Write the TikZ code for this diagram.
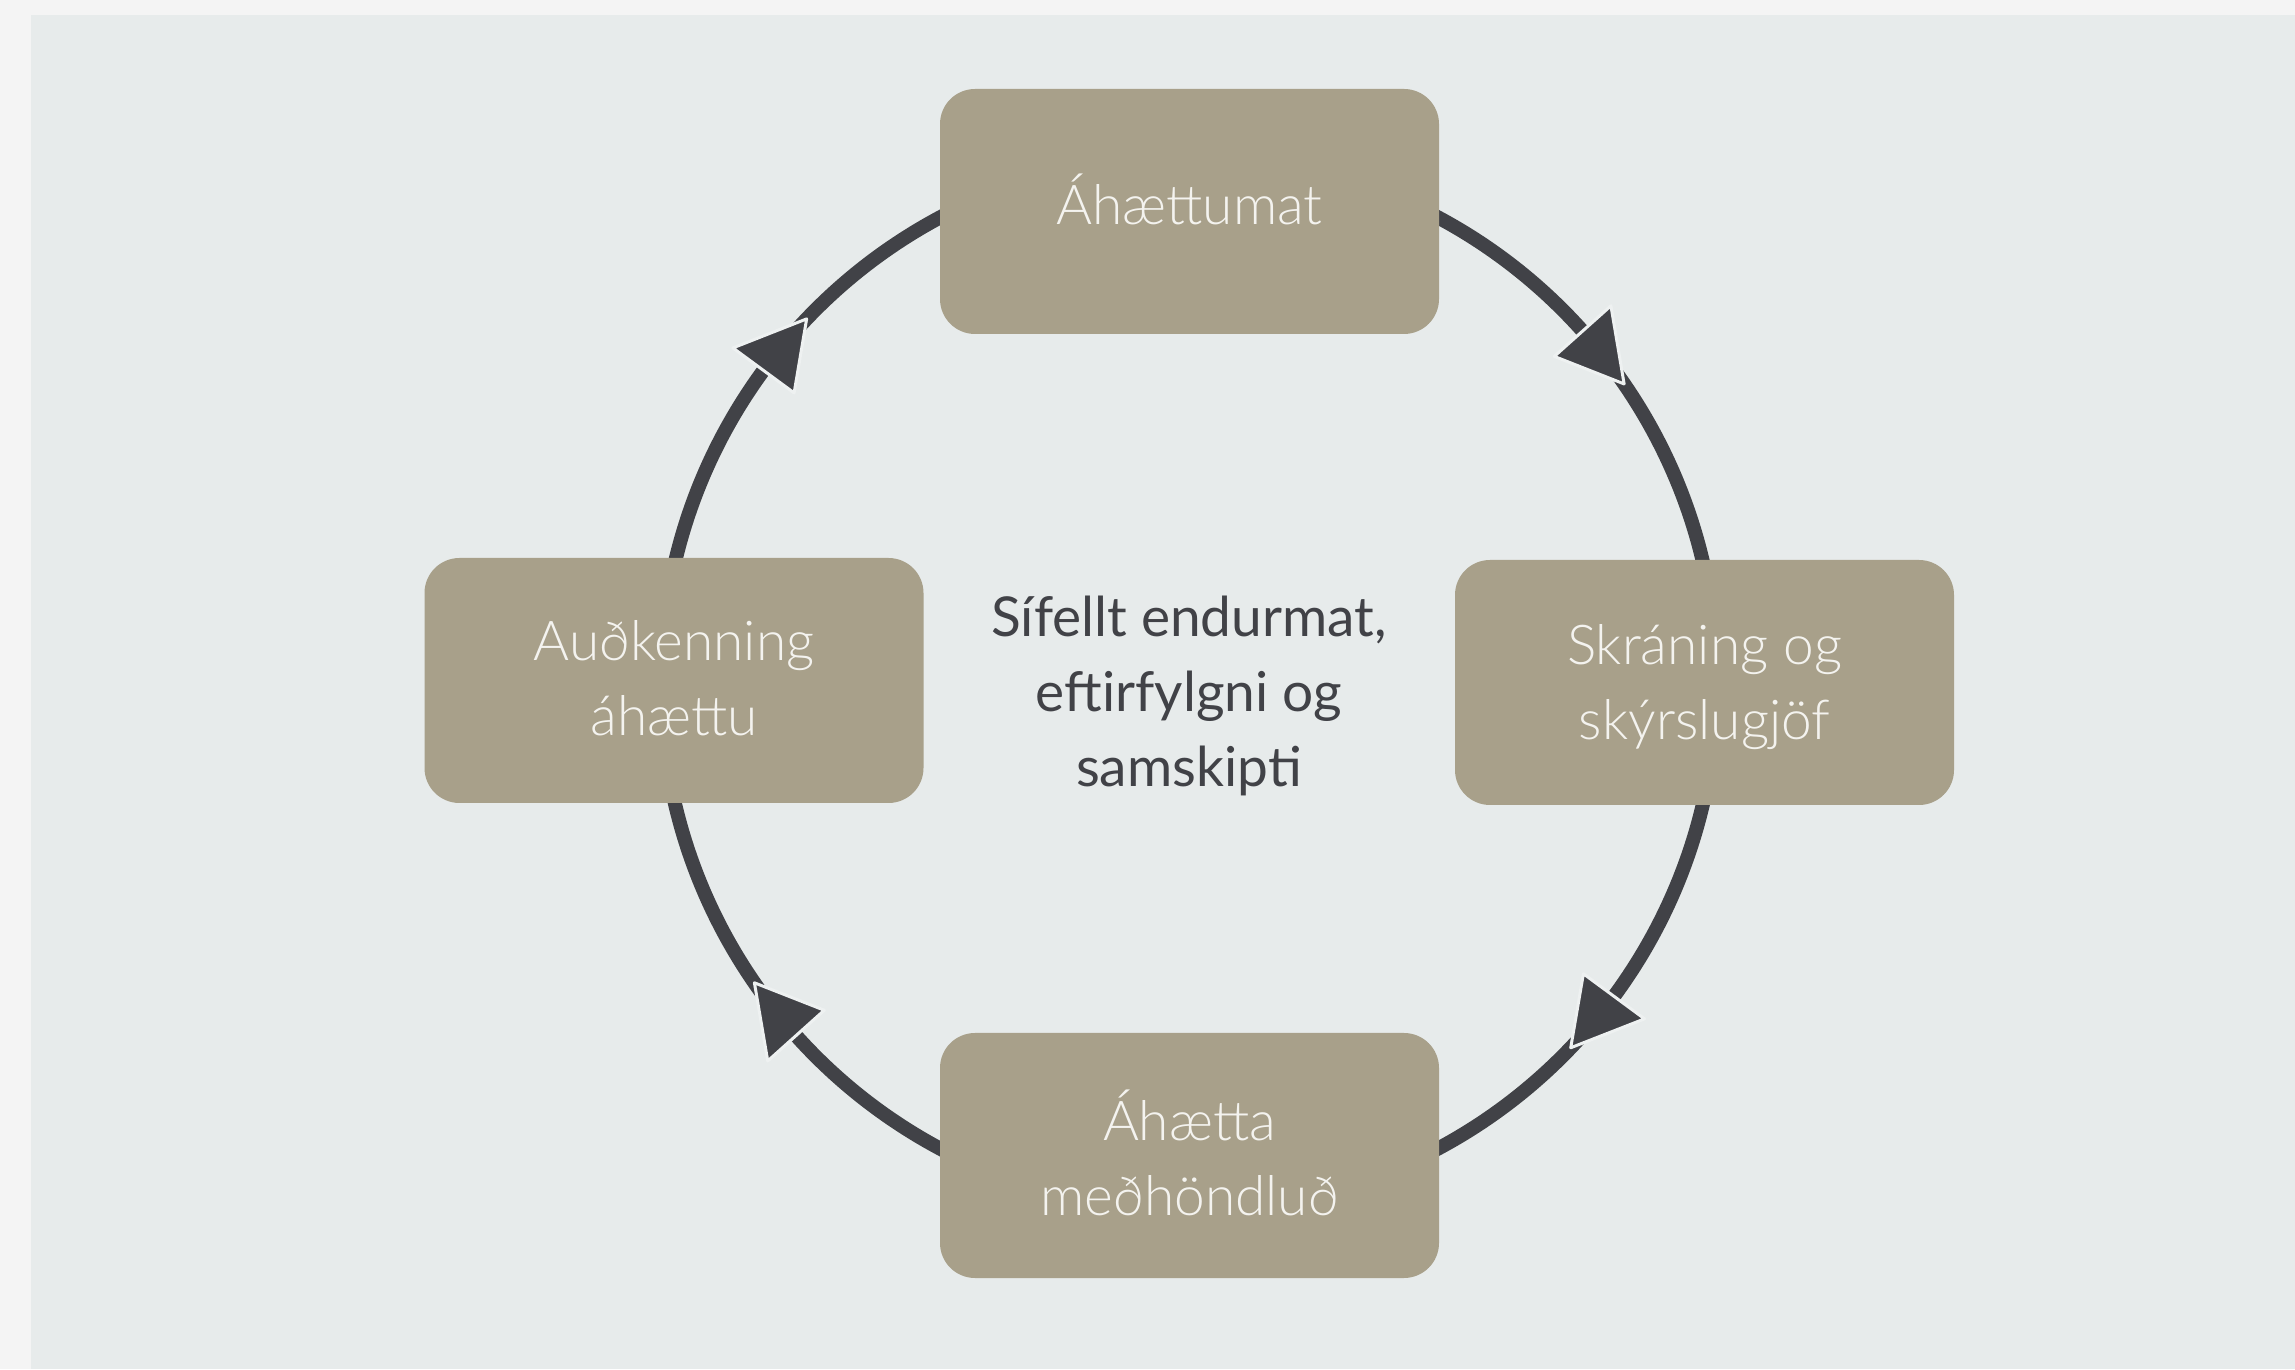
\documentclass[tikz,border=0pt]{standalone}
\usepackage{fontspec}
\setmainfont{Lato}
\newfontfamily\lightfont{Lato Light}
\usetikzlibrary{calc,backgrounds}
\definecolor{outerbg}{HTML}{F4F4F4}
\definecolor{panelbg}{HTML}{E7EBEB}
\definecolor{boxc}{HTML}{A8A08A}
\definecolor{boxtext}{HTML}{F4F3EF}
\definecolor{arrowc}{HTML}{414247}
\definecolor{headedge}{HTML}{EEF1F1}
\newcommand{\lines}[2][0pt]{\raisebox{\dimexpr #1-0.5\height+0.5\depth\relax}[0pt][0pt]{\begin{tabular}{@{}c@{}}#2\end{tabular}}}
\begin{document}
\begin{tikzpicture}[x=1pt,y=1pt,
  box/.style={rectangle, rounded corners=35pt, fill=boxc, minimum width=499pt, minimum height=245pt,
    text=boxtext, font=\lightfont\fontsize{55}{75}\selectfont, align=center, inner sep=0pt},
  conn/.style={draw=arrowc, line width=14pt},
  head/.style={fill=arrowc, draw=headedge, line width=3pt, line join=round},
  midtext/.style={text=arrowc, font=\fontsize{55}{75}\selectfont, align=center, inner sep=0pt}]
\useasboundingbox (0,0) rectangle (2295,1369);
\coordinate (c) at (1189,686);
\node[box] (top) at (1189.5,1157.5) {\lines[2pt]{Áhættumat}};
\node[box] (right) at (1704.5,686.5) {\lines[-5pt]{Skráning og\\skýrslugjöf}};
\node[box] (bottom) at (1189.5,213.5) {\lines[-8pt]{Áhætta\\meðhöndluð}};
\node[box] (left) at (674,688.5) {\lines[-3pt]{Auðkenning\\áhættu}};
\node[midtext] (mid) at (1189,673) {Sífellt endurmat,\\eftirfylgni og\\samskipti};
\begin{scope}[on background layer]
  \fill[outerbg] (0,0) rectangle (2295,1369);
  \fill[panelbg] (31,0) rectangle (2295,1354);
  % top -> right
  \draw[conn] ($(c)+(65:528)$) arc[start angle=65, end angle=10, radius=528];
  % right -> bottom
  \draw[conn] ($(c)+(-10:528)$) arc[start angle=-10, end angle=-65, radius=528];
  % bottom -> left
  \draw[conn] ($(c)+(245:528)$) arc[start angle=245, end angle=190, radius=528];
  % left -> top
  \draw[conn] ($(c)+(170:528)$) arc[start angle=170, end angle=115, radius=528];
\end{scope}
\foreach \t in {34.5,-43.7,214.6,136.4}{
  \filldraw[head] ($(c)+(\t:528)$) -- ($(c)+(\t+7.3:566)$) -- ($(c)+(\t+7.3:490)$) -- cycle;
}
\end{tikzpicture}
\end{document}
